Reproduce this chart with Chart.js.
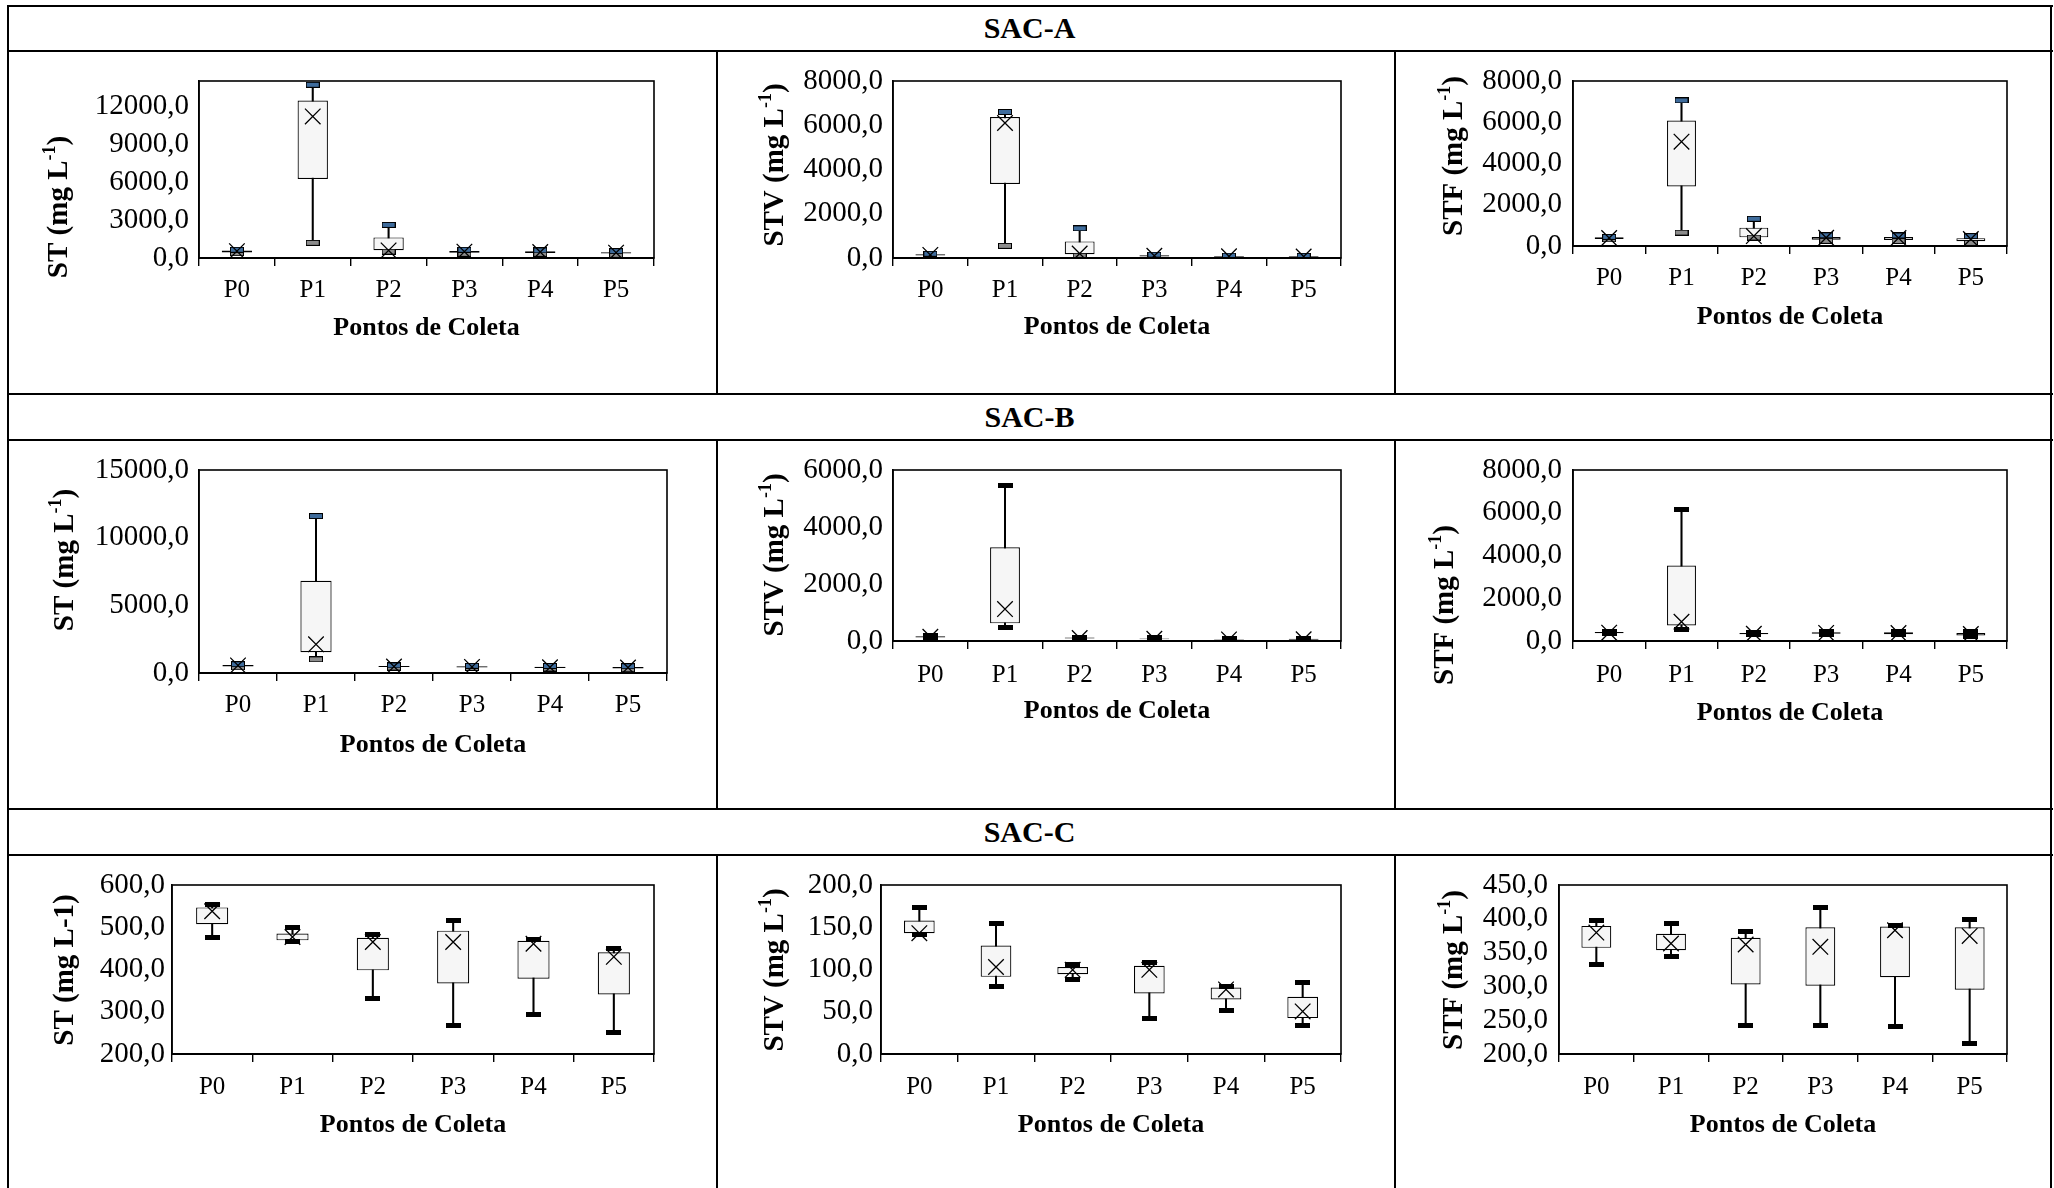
<!DOCTYPE html>
<html>
<head>
<meta charset="utf-8">
<script src="https://cdn.jsdelivr.net/npm/chart.js@4.4.1/dist/chart.umd.min.js"></script>
<style>
  body { margin: 0; width: 2054px; height: 1188px; background: #fff; position: relative; overflow: hidden; font-family: "Liberation Serif", serif; }
  .ln { position: absolute; background: #000; }
  .hd { position: absolute; left: 8px; width: 2043px; text-align: center; font-weight: bold; font-size: 30px; color: #000; }
  canvas { position: absolute; }
</style>
</head>
<body>
<script>
const categories = ['P0', 'P1', 'P2', 'P3', 'P4', 'P5'];

// SAC-A - ST
const aST_min  = [380, 1200, 500, 330, 330, 250];
const aST_q1   = [430, 6250, 620, 420, 400, 350];
const aST_q3   = [600, 12450, 1630, 560, 530, 450];
const aST_max  = [650, 13700, 2620, 650, 600, 540];
const aST_mean = [540, 11200, 600, 500, 470, 420];
const aST_ticks = [0, 3000, 6000, 9000, 12000];

// SAC-A - STV
const aSTV_min  = [80, 550, 100, 50, 40, 30];
const aSTV_q1   = [110, 3350, 170, 70, 55, 45];
const aSTV_q3   = [170, 6370, 750, 120, 90, 80];
const aSTV_max  = [190, 6600, 1340, 150, 110, 100];
const aSTV_mean = [140, 6100, 200, 100, 75, 65];
const aSTV_ticks = [0, 2000, 4000, 6000, 8000];

// SAC-A - STF
const aSTF_min  = [320, 650, 410, 250, 240, 150];
const aSTF_q1   = [340, 2890, 420, 300, 290, 230];
const aSTF_q3   = [420, 6080, 890, 440, 440, 380];
const aSTF_max  = [440, 7060, 1320, 520, 510, 480];
const aSTF_mean = [390, 5060, 480, 400, 390, 340];
const aSTF_ticks = [0, 2000, 4000, 6000, 8000];

// SAC-B - ST
const bST_min  = [420, 1010, 400, 370, 330, 280];
const bST_q1   = [480, 1530, 440, 410, 370, 330];
const bST_q3   = [600, 6820, 520, 490, 470, 440];
const bST_max  = [650, 11600, 560, 530, 520, 500];
const bST_mean = [560, 2120, 480, 450, 420, 400];
const bST_ticks = [0, 5000, 10000, 15000];

// SAC-B - STV
const bSTV_min  = [100, 460, 70, 50, 30, 30];
const bSTV_q1   = [120, 620, 90, 60, 40, 45];
const bSTV_q3   = [170, 3290, 120, 90, 65, 75];
const bSTV_max  = [190, 5470, 140, 110, 80, 95];
const bSTV_mean = [150, 1120, 105, 75, 55, 60];
const bSTV_ticks = [0, 2000, 4000, 6000];

// SAC-B - STF
const bSTF_min  = [340, 560, 300, 320, 300, 200];
const bSTF_q1   = [360, 730, 320, 340, 320, 260];
const bSTF_q3   = [420, 3530, 370, 410, 410, 380];
const bSTF_max  = [440, 6130, 390, 430, 440, 430];
const bSTF_mean = [390, 900, 340, 380, 370, 330];
const bSTF_ticks = [0, 2000, 4000, 6000, 8000];

// SAC-C - ST
const cST_min  = [476, 466, 331, 267, 293, 250];
const cST_q1   = [507, 469, 398, 367, 378, 341];
const cST_q3   = [547, 485, 475, 492, 468, 441];
const cST_max  = [554, 499, 483, 517, 471, 450];
const cST_mean = [538, 477, 465, 465, 461, 430];
const cST_ticks = [200, 300, 400, 500, 600];

// SAC-C - STV
const cSTV_min  = [142, 79.5, 87.8, 41.7, 51.2, 34.3];
const cSTV_q1   = [143, 91.3, 94.5, 71.7, 64.6, 42.5];
const cSTV_q3   = [157.9, 128.3, 103, 104.3, 78.7, 67.7];
const cSTV_max  = [172.8, 154.7, 105.9, 107.9, 80, 84.6];
const cSTV_mean = [143, 103, 99.6, 99.6, 76.4, 50.4];
const cSTV_ticks = [0, 50, 100, 150, 200];

// SAC-C - STF
const cSTF_min  = [332.9, 344.7, 242.8, 242.8, 240.8, 214.8];
const cSTF_q1   = [357, 353.5, 302.9, 300.9, 313.7, 295];
const cSTF_q3   = [389.5, 377.7, 371.8, 387.5, 388.5, 387.5];
const cSTF_max  = [397.8, 392.9, 381.6, 416, 390.4, 399.3];
const cSTF_mean = [379.6, 363.4, 361.9, 358.5, 383, 374.7];
const cSTF_ticks = [200, 250, 300, 350, 400, 450];

// table lines
function line(x, y, w, h) {
  const d = document.createElement('div');
  d.className = 'ln';
  d.style.left = x + 'px'; d.style.top = y + 'px';
  d.style.width = w + 'px'; d.style.height = h + 'px';
  document.body.appendChild(d);
}
[5, 50, 393, 439, 808, 854].forEach(y => line(7, y, 2046, 2));
line(7, 5, 2, 1183);
line(2050, 5, 2, 1183);
[[50, 393], [439, 808], [854, 1188]].forEach(([a, b]) => {
  line(716, a, 2, b - a);
  line(1394, a, 2, b - a);
});
function header(txt, top) {
  const d = document.createElement('div');
  d.className = 'hd';
  d.textContent = txt;
  d.style.top = top + 'px';
  d.style.height = '44px';
  d.style.lineHeight = '44px';
  document.body.appendChild(d);
}
header('SAC-A', 6);
header('SAC-B', 395);
header('SAC-C', 810);

// cap markers (whisker ends)
function capImage(w, h, fill) {
  const c = document.createElement('canvas');
  c.width = w; c.height = h;
  const g = c.getContext('2d');
  g.fillStyle = fill;
  g.fillRect(0, 0, w, h);
  if (fill !== '#000') {
    g.strokeStyle = '#000';
    g.lineWidth = 1;
    g.strokeRect(0.5, 0.5, w - 1, h - 1);
  }
  return c;
}
const capBlue = capImage(14, 6, '#3f6c9c');
const capGray = capImage(14, 6, '#8c8c8c');
const capBlack = capImage(15, 5, '#000');

const frame = {
  id: 'frame',
  afterDraw(chart) {
    const { ctx, chartArea: a } = chart;
    ctx.save();
    ctx.strokeStyle = '#000';
    ctx.lineWidth = 1.6;
    ctx.strokeRect(a.left, a.top, a.right - a.left, a.bottom - a.top);
    ctx.beginPath();
    ctx.lineWidth = 2.2;
    ctx.moveTo(a.left, a.bottom);
    ctx.lineTo(a.right, a.bottom);
    ctx.stroke();
    ctx.restore();
  }
};

const yTitle = {
  id: 'yTitle',
  afterDraw(chart, args, o) {
    const ctx = chart.ctx;
    const size = 29, sub = 18;
    ctx.save();
    ctx.fillStyle = '#000';
    ctx.textBaseline = 'middle';
    ctx.textAlign = 'left';
    const fBig = 'bold ' + size + 'px "Liberation Serif"';
    const fSup = 'bold ' + sub + 'px "Liberation Serif"';
    ctx.font = fBig;
    const w1 = ctx.measureText(o.text).width;
    const w3 = ctx.measureText(o.tail || '').width;
    ctx.font = fSup;
    const w2 = o.sup ? ctx.measureText(o.sup).width : 0;
    const total = w1 + w2 + w3;
    ctx.translate(o.x, o.y);
    ctx.rotate(-Math.PI / 2);
    let x = -total / 2;
    ctx.font = fBig;
    ctx.fillText(o.text, x, 0);
    x += w1;
    if (o.sup) {
      ctx.font = fSup;
      ctx.fillText(o.sup, x, -10);
      x += w2;
    }
    ctx.font = fBig;
    if (o.tail) ctx.fillText(o.tail, x, 0);
    ctx.restore();
  }
};

const cols = [{ cx: 10, cw: 705 }, { cx: 719, cw: 674 }, { cx: 1397, cw: 652 }];
const rows = [{ cy: 52, ch: 340 }, { cy: 441, ch: 366 }, { cy: 856, ch: 332 }];

const panels = [
  { c: 0, r: 0, min: aST_min, q1: aST_q1, q3: aST_q3, max: aST_max, mean: aST_mean, ticks: aST_ticks, yMax: 14000,
    title: 'ST (mg L', sup: '-1', tail: ')', capHi: capBlue, capLo: capGray,
    L: 199, R: 654, T: 81, B: 258, labR: 189, labY: 290, xtY: 328, ytX: 60, ytY: 207 },
  { c: 1, r: 0, min: aSTV_min, q1: aSTV_q1, q3: aSTV_q3, max: aSTV_max, mean: aSTV_mean, ticks: aSTV_ticks, yMax: 8000,
    title: 'STV (mg L', sup: '-1', tail: ')', capHi: capBlue, capLo: capGray,
    L: 893, R: 1341, T: 81, B: 258, labR: 883, labY: 290, xtY: 327, ytX: 776, ytY: 165 },
  { c: 2, r: 0, min: aSTF_min, q1: aSTF_q1, q3: aSTF_q3, max: aSTF_max, mean: aSTF_mean, ticks: aSTF_ticks, yMax: 8000,
    title: 'STF (mg L', sup: '-1', tail: ')', capHi: capBlue, capLo: capGray,
    L: 1573, R: 2007, T: 81, B: 246, labR: 1562, labY: 278, xtY: 317, ytX: 1455, ytY: 156 },
  { c: 0, r: 1, min: bST_min, q1: bST_q1, q3: bST_q3, max: bST_max, mean: bST_mean, ticks: bST_ticks, yMax: 15000,
    title: 'ST (mg L', sup: '-1', tail: ')', capHi: capBlue, capLo: capGray,
    L: 199, R: 667, T: 470, B: 673, labR: 189, labY: 705, xtY: 745, ytX: 66, ytY: 560 },
  { c: 1, r: 1, min: bSTV_min, q1: bSTV_q1, q3: bSTV_q3, max: bSTV_max, mean: bSTV_mean, ticks: bSTV_ticks, yMax: 6000,
    title: 'STV (mg L', sup: '-1', tail: ')', capHi: capBlack, capLo: capBlack,
    L: 893, R: 1341, T: 470, B: 641, labR: 883, labY: 675, xtY: 711, ytX: 776, ytY: 555 },
  { c: 2, r: 1, min: bSTF_min, q1: bSTF_q1, q3: bSTF_q3, max: bSTF_max, mean: bSTF_mean, ticks: bSTF_ticks, yMax: 8000,
    title: 'STF (mg L', sup: '-1', tail: ')', capHi: capBlack, capLo: capBlack,
    L: 1573, R: 2007, T: 470, B: 641, labR: 1562, labY: 675, xtY: 713, ytX: 1446, ytY: 605 },
  { c: 0, r: 2, min: cST_min, q1: cST_q1, q3: cST_q3, max: cST_max, mean: cST_mean, ticks: cST_ticks, yMax: 600,
    title: 'ST (mg L-1)', capHi: capBlack, capLo: capBlack,
    L: 172, R: 654, T: 885, B: 1054, labR: 165, labY: 1087, xtY: 1125, ytX: 66, ytY: 970 },
  { c: 1, r: 2, min: cSTV_min, q1: cSTV_q1, q3: cSTV_q3, max: cSTV_max, mean: cSTV_mean, ticks: cSTV_ticks, yMax: 200,
    title: 'STV (mg L', sup: '-1', tail: ')', capHi: capBlack, capLo: capBlack,
    L: 881, R: 1341, T: 885, B: 1054, labR: 873, labY: 1087, xtY: 1125, ytX: 776, ytY: 970 },
  { c: 2, r: 2, min: cSTF_min, q1: cSTF_q1, q3: cSTF_q3, max: cSTF_max, mean: cSTF_mean, ticks: cSTF_ticks, yMax: 450,
    title: 'STF (mg L', sup: '-1', tail: ')', capHi: capBlack, capLo: capBlack,
    L: 1559, R: 2007, T: 885, B: 1054, labR: 1548, labY: 1087, xtY: 1125, ytX: 1455, ytY: 970 }
];

const tickFont = { family: 'Liberation Serif', size: 29 };
const catFont = { family: 'Liberation Serif', size: 25 };
const fmt = v => Number(v).toFixed(1).replace('.', ',');

panels.forEach(p => {
  const { cx, cw } = cols[p.c];
  const { cy, ch } = rows[p.r];
  const cv = document.createElement('canvas');
  cv.width = cw; cv.height = ch;
  cv.style.left = cx + 'px'; cv.style.top = cy + 'px';
  cv.style.width = cw + 'px'; cv.style.height = ch + 'px';
  document.body.appendChild(cv);

  const xH = cy + ch - p.B;
  const yW = p.L - cx;
  const xPad = p.labY - p.B - 8 - catFont.size * 0.6;
  const tPad = cy + ch - p.xtY - 26 * 0.6;

  new Chart(cv, {
    type: 'bar',
    data: {
      labels: categories,
      datasets: [
        { label: 'whisker', data: p.min.map((v, i) => [v, p.max[i]]), backgroundColor: '#000',
          barThickness: 1.4, grouped: false, order: 4 },
        { label: 'box', data: p.q1.map((v, i) => [v, p.q3[i]]), backgroundColor: '#f6f6f6',
          borderColor: '#000', borderWidth: 1.2, borderSkipped: false,
          barPercentage: 0.4, categoryPercentage: 1, grouped: false, order: 3 },
        { type: 'line', label: 'max', data: p.max, showLine: false, pointStyle: p.capHi, pointRadius: 3, order: 2 },
        { type: 'line', label: 'min', data: p.min, showLine: false, pointStyle: p.capLo, pointRadius: 3, order: 2 },
        { type: 'line', label: 'media', data: p.mean, showLine: false, pointStyle: 'crossRot',
          pointRadius: 11, borderColor: '#000', borderWidth: 1.3, order: 1 }
      ]
    },
    options: {
      responsive: false,
      animation: false,
      devicePixelRatio: 1,
      layout: { padding: { top: p.T - cy, right: cx + cw - p.R, left: 0, bottom: 0 } },
      plugins: {
        legend: { display: false },
        tooltip: { enabled: false },
        yTitle: { text: p.title, sup: p.sup, tail: p.tail, x: p.ytX - cx, y: p.ytY - cy }
      },
      scales: {
        x: {
          offset: true,
          grid: { display: true, drawOnChartArea: false, drawTicks: true, tickLength: 8,
                  color: '#000', lineWidth: 1.4, offset: true },
          border: { display: true, color: '#000', width: 2 },
          ticks: { color: '#000', font: catFont, padding: xPad, maxRotation: 0, autoSkip: false },
          title: { display: true, text: 'Pontos de Coleta', color: '#000',
                   font: { family: 'Liberation Serif', size: 26, weight: 'bold', lineHeight: 1.2 },
                   padding: { top: 0, bottom: tPad } },
          afterFit: s => { s.height = xH; }
        },
        y: {
          min: p.ticks[0],
          max: p.yMax,
          afterBuildTicks: s => { s.ticks = p.ticks.map(v => ({ value: v })); },
          grid: { display: false, drawTicks: false },
          border: { display: true, color: '#000', width: 1.6 },
          ticks: { color: '#000', font: tickFont, padding: p.L - p.labR, callback: fmt, autoSkip: false },
          afterFit: s => { s.width = yW; }
        }
      }
    },
    plugins: [frame, yTitle]
  });
});
</script>
</body>
</html>
